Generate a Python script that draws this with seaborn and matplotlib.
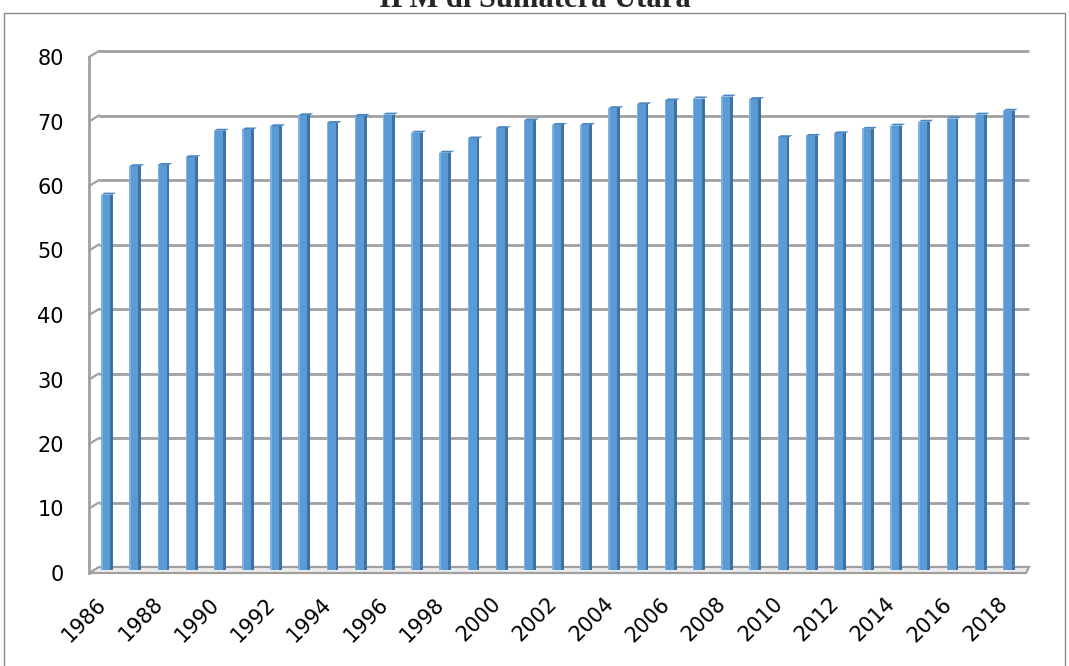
import numpy as np
import pandas as pd
import matplotlib
matplotlib.use("Agg")
import matplotlib.pyplot as plt
import seaborn as sns
from matplotlib.patches import Polygon, Rectangle

# Human Development Index (IPM), North Sumatra
years = list(range(1986, 2019))
ipm = [58.2, 62.6, 62.8, 64.0, 68.1, 68.3, 68.8, 70.5, 69.3, 70.4,
       70.6, 67.8, 64.7, 66.9, 68.5, 69.7, 69.0, 69.0, 71.6, 72.2,
       72.8, 73.1, 73.4, 73.0, 67.1, 67.3, 67.7, 68.4, 68.9, 69.5,
       70.0, 70.6, 71.2]
y_ticks = [0, 10, 20, 30, 40, 50, 60, 70, 80]
label_years = years[::2]
title = "IPM di Sumatera Utara"

sns.set_style("white")
plt.rcParams["font.family"] = ["DejaVu Sans"]

W, H = 1069, 666
fig = plt.figure(figsize=(W / 100, H / 100), dpi=100)
left_px, right_px, top_px, bottom_px = 89, 1019, 57, 573
ax = fig.add_axes([left_px / W, 1 - bottom_px / H,
                   (right_px - left_px) / W, (bottom_px - top_px) / H])

df = pd.DataFrame({"Tahun": [str(y) for y in years], "IPM": ipm})
sns.barplot(data=df, x="Tahun", y="IPM", color="#5B9BD5", saturation=1,
            width=0.42, ax=ax, zorder=4)

n = len(years)
ax.set_xlim(-0.5, n - 0.5)
ax.set_ylim(0, 80)
ax.set_xlabel("")
ax.set_ylabel("")

# pixel offsets expressed in data units (for the pseudo-3D depth)
ux = (right_px - left_px) / n
uy = (bottom_px - top_px) / 80.0


def off(dx_px, dy_px):
    return dx_px / ux, dy_px / uy


GRID = "#A0A0A0"
wdx, wdy = off(10, 6)   # back wall
bdx, bdy = off(4, 3)    # columns sit mid-depth
cdx, cdy = off(3, 2)    # column top face

# floor
floor = Polygon([(-0.5, 0), (n - 0.5 + 0.25, 0), (n - 0.5 + wdx, wdy), (-0.5 + wdx, wdy)],
                closed=True, fc="#EDEDED", ec=GRID, lw=1.6, clip_on=False, zorder=2)
ax.add_patch(floor)

# back-wall gridlines and left connectors
for v in y_ticks[1:]:
    ax.plot([-0.5 + wdx, n - 0.5 + wdx], [v + wdy, v + wdy], color=GRID, lw=2.0,
            clip_on=False, zorder=1, solid_capstyle="butt")
    ax.plot([-0.5, -0.5 + wdx], [v, v + wdy], color=GRID, lw=1.6, clip_on=False, zorder=1)

# columns with side shading and top face
bars = [p for p in ax.patches if isinstance(p, Rectangle) and p.get_height() > 0]
for p in bars:
    x0, w, h = p.get_x(), p.get_width(), p.get_height()
    xs = x0 + bdx
    p.set_x(xs)
    p.set_y(bdy)
    p.set_edgecolor("none")
    ax.add_patch(Rectangle((xs, bdy), w * 0.12, h, fc="#7DB3E4", ec="none", zorder=5))
    ax.add_patch(Rectangle((xs + w * 0.76, bdy), w * 0.24, h, fc="#3F71A3", ec="none", zorder=5))
    ax.add_patch(Polygon([(xs, h + bdy), (xs + w, h + bdy),
                          (xs + w + cdx, h + bdy + cdy), (xs + cdx, h + bdy + cdy)],
                         closed=True, fc="#4B87C2", ec="none", zorder=5, clip_on=False))

# axes styling
for s in ["top", "right", "bottom"]:
    ax.spines[s].set_visible(False)
ax.spines["left"].set_color(GRID)
ax.spines["left"].set_linewidth(2.0)
ax.spines["left"].set_zorder(3)

ax.set_yticks(y_ticks)
ax.set_yticklabels([str(v) for v in y_ticks])
ax.tick_params(axis="y", direction="out", length=6, width=1.5, color=GRID,
               pad=12, labelsize=15, labelcolor="black")

ax.set_xticks(range(0, n, 2))
ax.set_xticklabels([str(y) for y in label_years])
ax.set_xticks(np.arange(-0.5, n, 1.0), minor=True)
ax.tick_params(axis="x", which="major", length=0, pad=20, labelsize=15,
               labelcolor="black")
ax.tick_params(axis="x", which="minor", direction="out", length=7, width=1.3,
               color=GRID)
for lbl in ax.get_xticklabels():
    lbl.set_rotation(45)
    lbl.set_ha("right")
    lbl.set_va("center")
    lbl.set_rotation_mode("anchor")

ax.grid(False)
ax.set_facecolor("none")

# chart title and outer frame
fig.text(535 / W, 1 - 7 / H, title, ha="center", va="baseline",
         family="Liberation Serif", fontweight="bold", fontsize=22)
fig.add_artist(Rectangle((4 / W, -0.05), (1065 - 4) / W, 1 - 13 / H + 0.05,
                         transform=fig.transFigure, fill=False, ec="#8A8A8A", lw=1.0))

fig.savefig("out.png", dpi=100)
